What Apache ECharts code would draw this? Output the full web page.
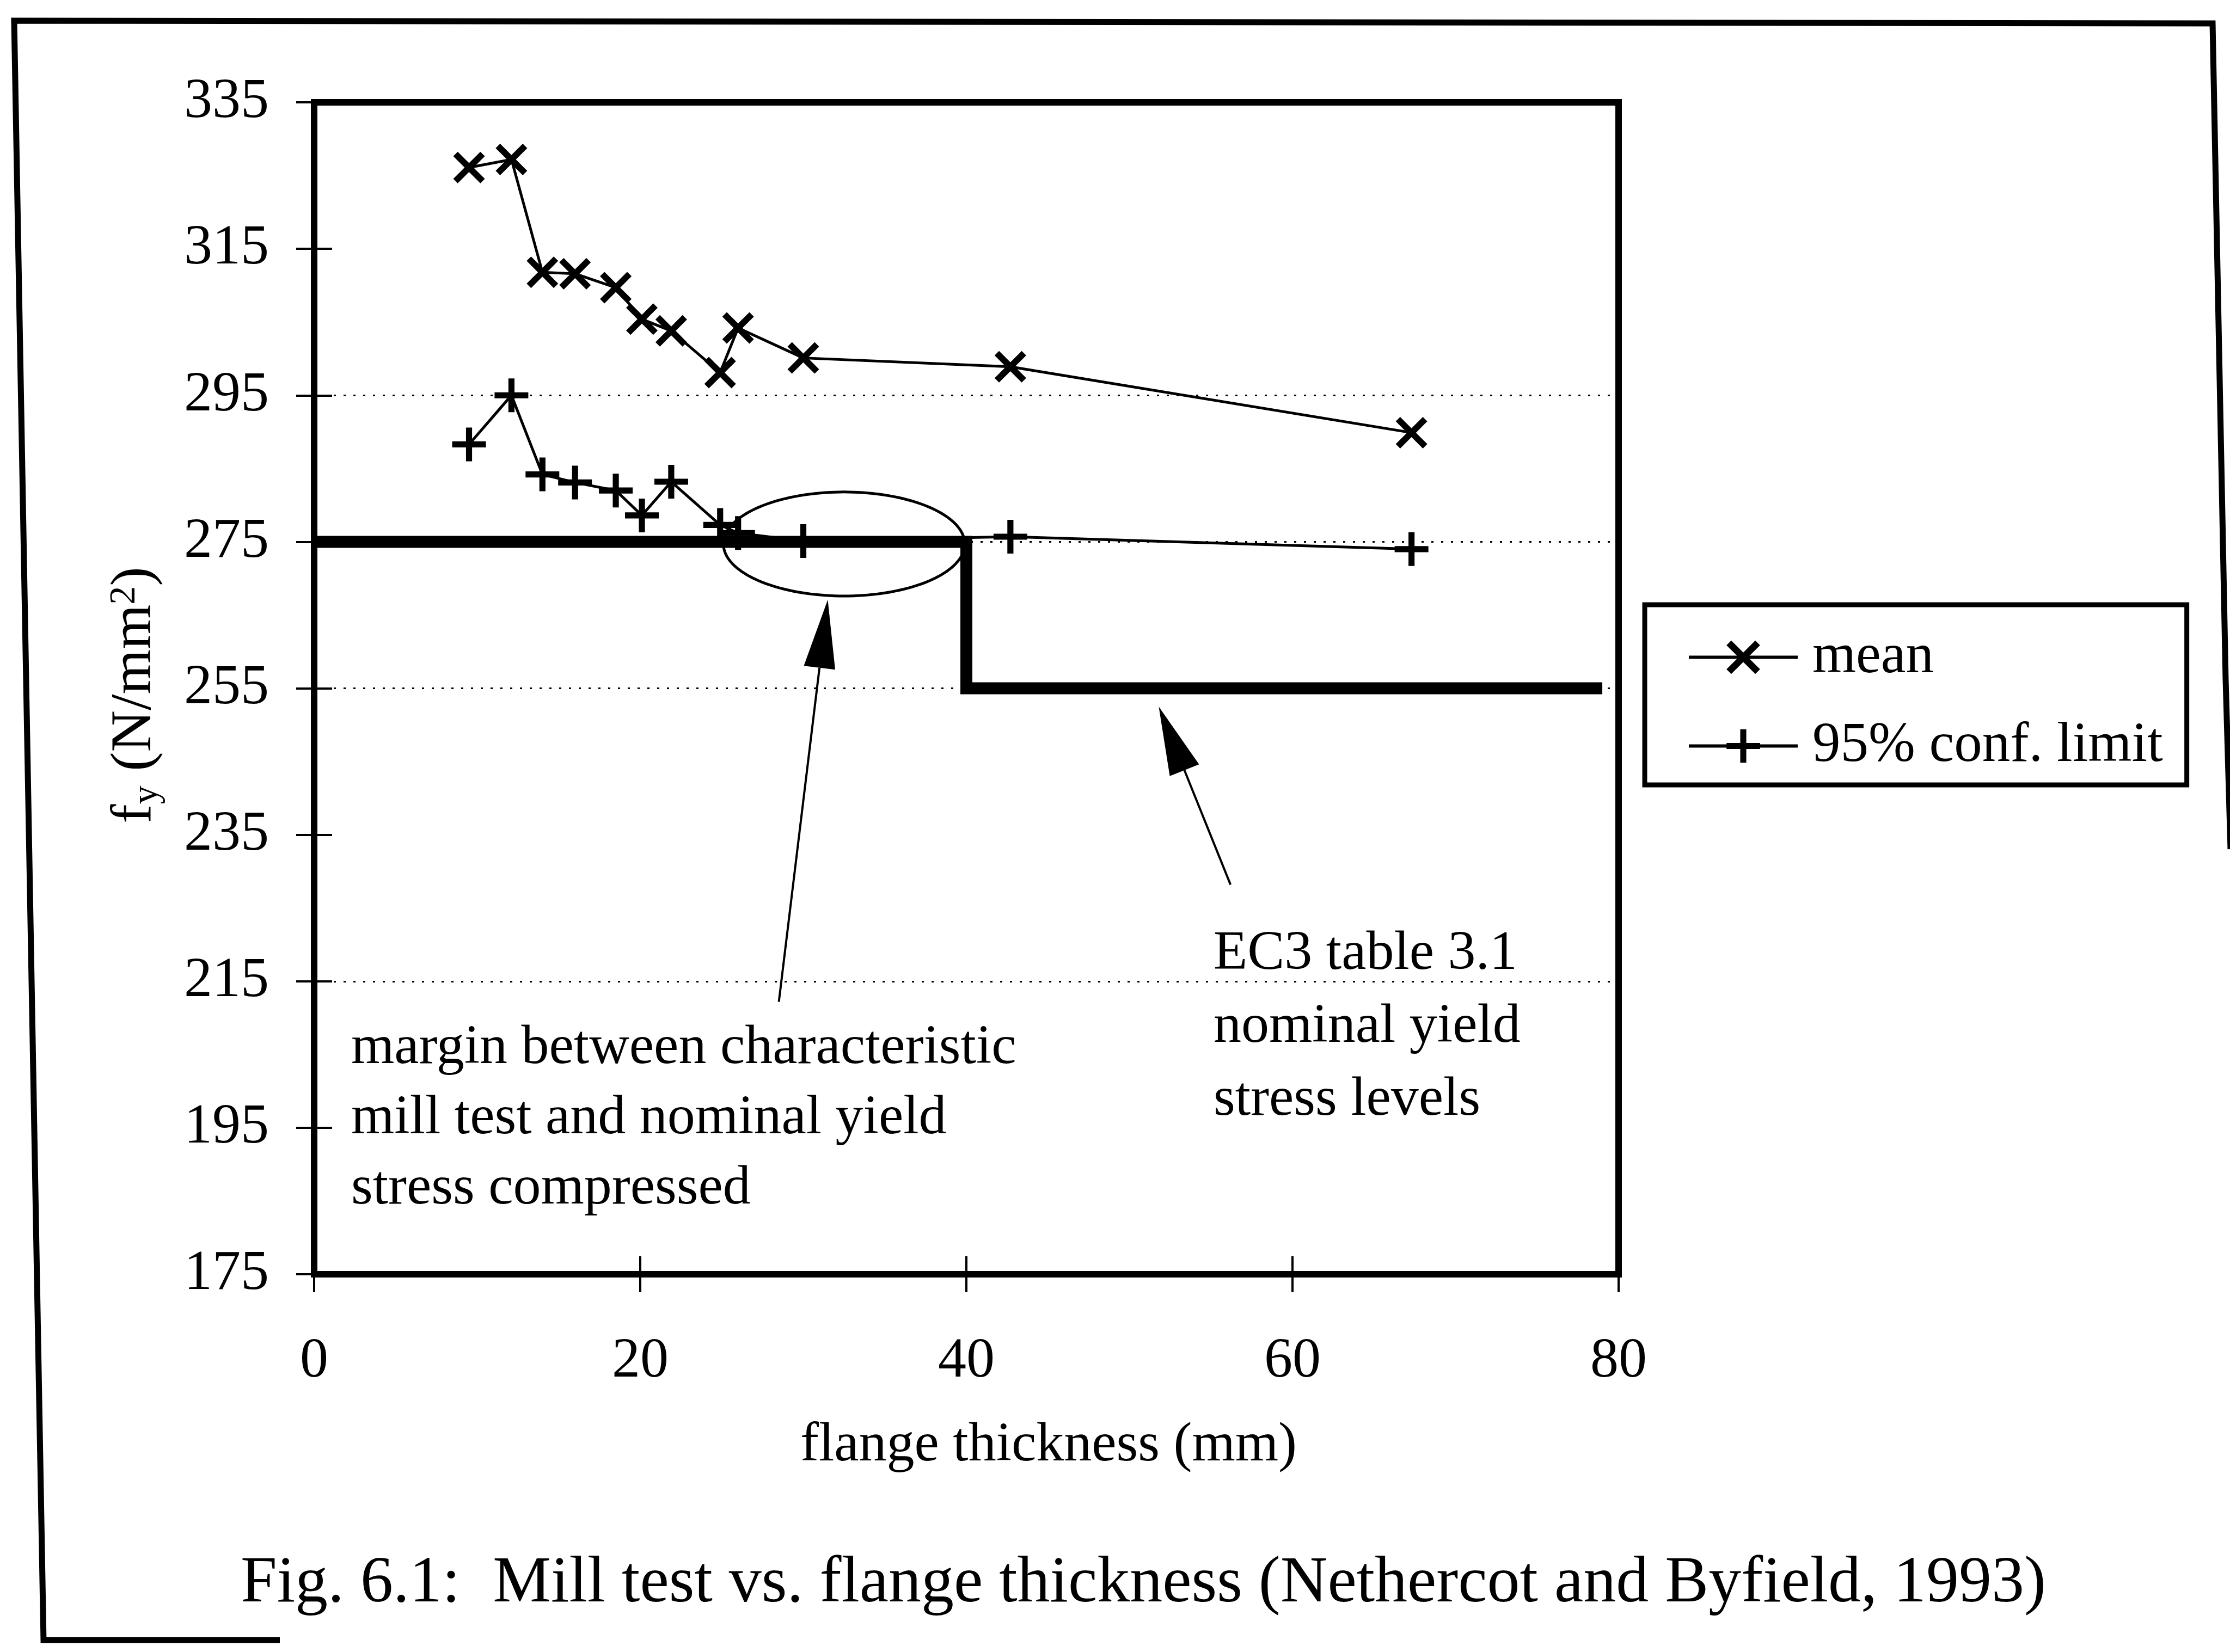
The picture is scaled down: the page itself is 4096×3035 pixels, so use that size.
<!DOCTYPE html>
<html>
<head>
<meta charset="utf-8">
<script src="https://cdn.jsdelivr.net/npm/echarts@6/dist/echarts.min.js"></script>
<style>
  html, body { margin: 0; padding: 0; background: #fff; }
  #chart { width: 4096px; height: 3035px; }
</style>
</head>
<body>
<div id="chart"></div>
<script>
// Mill test yield stress grouped by flange thickness
const thickness = [9.5, 12.1, 14.0, 16.0, 18.5, 20.1, 21.9, 24.9, 26.0, 30.0, 42.7, 67.3];
const meanFy    = [326.1, 327.2, 311.8, 311.6, 309.7, 305.4, 303.8, 298.1, 304.2, 300.1, 298.9, 289.9];
const conf95Fy  = [288.3, 295.0, 284.2, 283.1, 282.0, 278.6, 283.2, 277.3, 276.2, 275.1, 275.7, 274.0];

// EC3 table 3.1 nominal yield stress, stepping down at 40 mm
const nominalX  = [0, 40, 40, 79];
const nominalFy = [275, 275, 255, 255];

// Axis ticks and the dotted reference levels
const xTickStep = 20;
const yTicks = [175, 195, 215, 235, 255, 275, 295, 315, 335];
const dottedFy = [295, 275, 255, 215];

// Annotation geometry in data units (flange thickness, stress)
const ellipseCentre = [32.5, 274.7];
const ellipseRadii  = [7.4, 7.1];
const arrows = [
  { from: [28.5, 212.2], to: [31.5, 267.1] },
  { from: [56.2, 228.2], to: [51.8, 252.5] }
];

const SERIF = 'Liberation Serif, Times New Roman, serif';
// bold "x" and "+" markers as filled outlines
const CROSS = 'path://M0,14.1L14.1,0L50,35.9L85.9,0L100,14.1L64.1,50L100,85.9L85.9,100L50,64.1L14.1,100L0,85.9L35.9,50Z';
const PLUS  = 'path://M41,0H59V41H100V59H59V100H41V59H0V41H41Z';

const zip = (xs, ys) => xs.map((x, i) => [x, ys[i]]);

const chart = echarts.init(document.getElementById('chart'), null, { renderer: 'canvas' });

const xBase = { type: 'value', min: 0, max: 80, interval: xTickStep, position: 'bottom', splitLine: { show: false } };
const yBase = { type: 'value', min: 175, max: 335, position: 'left', splitLine: { show: false } };

chart.setOption({
  animation: false,
  backgroundColor: '#fff',
  grid: {
    left: 577, right: 1123, top: 188, bottom: 694,
    show: true, borderColor: '#000', borderWidth: 12, backgroundColor: 'transparent'
  },
  xAxis: [
    Object.assign({}, xBase, {
      axisLine: { show: true, lineStyle: { color: '#000', width: 12 } },
      axisTick: { show: true, inside: false, length: 33, lineStyle: { color: '#000', width: 4 } },
      axisLabel: { fontFamily: SERIF, fontSize: 104, color: '#000', margin: 109 }
    }),
    Object.assign({}, xBase, {
      axisLine: { show: false },
      axisTick: { show: true, inside: true, length: 33, lineStyle: { color: '#000', width: 4 } },
      axisLabel: { show: false }
    })
  ],
  yAxis: [
    Object.assign({}, yBase, {
      axisLine: { show: true, lineStyle: { color: '#000', width: 12 } },
      axisTick: { show: true, inside: false, length: 33, customValues: yTicks, lineStyle: { color: '#000', width: 4 } },
      axisLabel: { customValues: yTicks, fontFamily: SERIF, fontSize: 104, color: '#000', margin: 83 }
    }),
    Object.assign({}, yBase, {
      axisLine: { show: false },
      axisTick: { show: true, inside: true, length: 33, customValues: yTicks, lineStyle: { color: '#000', width: 4 } },
      axisLabel: { show: false }
    })
  ],
  legend: {
    data: ['mean', '95% conf. limit'],
    orient: 'vertical',
    left: 3021, top: 1111,
    itemWidth: 200, itemHeight: 77, itemGap: 60,
    padding: [45, 44, 20, 78],
    borderColor: '#000', borderWidth: 9,
    selectedMode: false,
    lineStyle: { width: 6 },
    textStyle: { fontFamily: SERIF, fontSize: 103, color: '#000', lineHeight: 77, padding: [0, 0, 0, 22] }
  },
  series: [
    {
      name: 'EC3 nominal',
      type: 'line',
      data: zip(nominalX, nominalFy),
      showSymbol: false,
      symbol: 'none',
      lineStyle: { color: '#000', width: 22, cap: 'butt', join: 'miter' },
      z: 2,
      markLine: {
        silent: true,
        symbol: 'none',
        label: { show: false },
        lineStyle: { color: '#000', width: 3, type: [4, 14] },
        data: dottedFy.map(v => ({ yAxis: v }))
      }
    },
    {
      name: 'mean',
      type: 'line',
      data: zip(thickness, meanFy),
      symbol: CROSS,
      symbolSize: 58,
      lineStyle: { color: '#000', width: 5 },
      itemStyle: { color: '#000' },
      z: 3
    },
    {
      name: '95% conf. limit',
      type: 'line',
      data: zip(thickness, conf95Fy),
      symbol: PLUS,
      symbolSize: 62,
      lineStyle: { color: '#000', width: 5 },
      itemStyle: { color: '#000' },
      z: 3
    }
  ]
});

// Annotations: placed through the chart's own coordinate conversion
const toPx = p => chart.convertToPixel({ gridIndex: 0 }, p);

const c = toPx(ellipseCentre);
const ex = toPx([ellipseCentre[0] + ellipseRadii[0], ellipseCentre[1]]);
const ey = toPx([ellipseCentre[0], ellipseCentre[1] + ellipseRadii[1]]);
const rx = Math.abs(ex[0] - c[0]);
const ry = Math.abs(c[1] - ey[1]);
const ellipsePts = [];
for (let i = 0; i < 160; i++) {
  const t = (i / 160) * Math.PI * 2;
  ellipsePts.push([c[0] + rx * Math.cos(t), c[1] + ry * Math.sin(t)]);
}

const graphics = [
  {
    type: 'polygon', z: 10,
    shape: { points: ellipsePts },
    style: { fill: 'none', stroke: '#000', lineWidth: 5 }
  }
];

const HEAD_LEN = 126, HEAD_W = 58;
arrows.forEach(a => {
  const p0 = toPx(a.from), p1 = toPx(a.to);
  const dx = p1[0] - p0[0], dy = p1[1] - p0[1];
  const len = Math.hypot(dx, dy);
  const ux = dx / len, uy = dy / len;
  const bx = p1[0] - ux * HEAD_LEN, by = p1[1] - uy * HEAD_LEN;
  const nx = -uy * HEAD_W / 2, ny = ux * HEAD_W / 2;
  graphics.push({
    type: 'line', z: 10,
    shape: { x1: p0[0], y1: p0[1], x2: bx, y2: by },
    style: { stroke: '#000', lineWidth: 4 }
  });
  graphics.push({
    type: 'polygon', z: 10,
    shape: { points: [[p1[0], p1[1]], [bx + nx, by + ny], [bx - nx, by - ny]] },
    style: { fill: '#000' }
  });
});

const txt = (x, y, text, size, extra) => Object.assign({
  type: 'text', x: x, y: y, z: 11,
  style: Object.assign({
    text: text, fill: '#000', fontFamily: SERIF, fontSize: size,
    align: 'left', verticalAlign: 'top', textAlign: 'left', textVerticalAlign: 'top'
  }, extra || {})
});

graphics.push(txt(645, 1862,
  'margin between characteristic\nmill test and nominal yield\nstress compressed', 102, { lineHeight: 129 }));
graphics.push(txt(2229, 1686,
  'EC3 table 3.1\nnominal yield\nstress levels', 102, { lineHeight: 134 }));
graphics.push(txt(1926, 2656, 'flange thickness (mm)', 102,
  { align: 'center', verticalAlign: 'middle', textAlign: 'center', textVerticalAlign: 'middle' }));
graphics.push(txt(2100, 2910, 'Fig. 6.1:  Mill test vs. flange thickness (Nethercot and Byfield, 1993)', 120,
  { align: 'center', verticalAlign: 'middle', textAlign: 'center', textVerticalAlign: 'middle' }));

// rotated y-axis title with subscript and superscript
graphics.push({
  type: 'text', x: 248, y: 1277, rotation: Math.PI / 2, z: 11,
  style: {
    text: '{a|f}{s|y}{a| (N/mm}{p|2}{a|)}',
    align: 'center', verticalAlign: 'middle', textAlign: 'center', textVerticalAlign: 'middle',
    rich: {
      a: { fontFamily: SERIF, fontSize: 106, fill: '#000', color: '#000', lineHeight: 130 },
      s: { fontFamily: SERIF, fontSize: 68, fill: '#000', color: '#000', lineHeight: 130, verticalAlign: 'bottom', padding: [0, 0, 8, 0] },
      p: { fontFamily: SERIF, fontSize: 68, fill: '#000', color: '#000', lineHeight: 130, verticalAlign: 'top', padding: [12, 0, 0, 0] }
    }
  }
});

// page frame around the figure
graphics.push({
  type: 'polyline', z: 1,
  shape: { points: [[4097, 1560], [4088, 1248], [4064, 43], [26, 38], [80, 3013], [514, 3013]] },
  style: { fill: 'none', stroke: '#000', lineWidth: 11 }
});

chart.setOption({ graphic: graphics });
</script>
</body>
</html>
